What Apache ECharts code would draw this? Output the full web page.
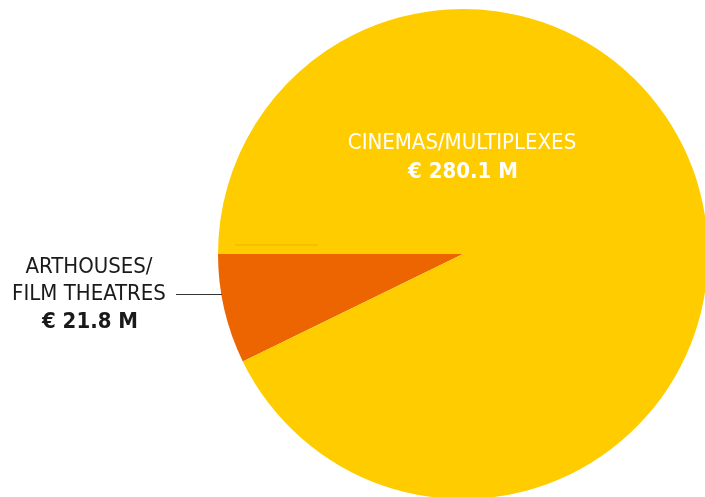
<!DOCTYPE html>
<html><head><meta charset="utf-8">
<script src="https://cdn.jsdelivr.net/npm/echarts@6/dist/echarts.min.js"></script>
<style>html,body{margin:0;padding:0;background:#fff}#c{width:705px;height:497px}</style>
</head><body><div id="c"></div>
<script>
var categories = ["ARTHOUSES/\nFILM THEATRES", "CINEMAS/MULTIPLEXES"];
var values = [21.8, 280.1];
var valueLabels = ["€ 21.8 M", "€ 280.1 M"];
var colors = ["#EC6500", "#FFCC00"];
var FONT = "'Liberation Sans Narrow','DejaVu Sans Condensed','Roboto',sans-serif";

var chart = echarts.init(document.getElementById('c'), null, {renderer: 'canvas'});
chart.setOption({
  animation: false,
  series: [{
    type: 'pie',
    center: [463, 254],
    radius: [0, 245],
    startAngle: 180,
    clockwise: false,
    silent: true,
    label: {show: false},
    labelLine: {show: false},
    itemStyle: {borderWidth: 0},
    data: categories.map(function (c, i) {
      return {name: c, value: values[i], itemStyle: {color: colors[i]}};
    })
  }],
  graphic: {
    elements: [
      {type: 'line', z: 100, shape: {x1: 235, y1: 245, x2: 318, y2: 245}, style: {stroke: '#F8BE00', lineWidth: 2}, silent: true},
      {type: 'line', z: 100, shape: {x1: 176, y1: 294.5, x2: 222, y2: 294.5}, style: {stroke: '#333', lineWidth: 1}, silent: true},
      {type: 'text', z: 100, x: 89, y: 281, style: {text: categories[0], fill: '#1a1a1a', font: '22px ' + FONT, align: 'center', verticalAlign: 'middle', lineHeight: 27}},
      {type: 'text', z: 100, x: 90, y: 322, style: {text: valueLabels[0], fill: '#1a1a1a', font: 'bold 22px ' + FONT, align: 'center', verticalAlign: 'middle'}},
      {type: 'text', z: 100, x: 462, y: 143, style: {text: categories[1], fill: '#fff', font: '22px ' + FONT, align: 'center', verticalAlign: 'middle'}},
      {type: 'text', z: 100, x: 463, y: 172, style: {text: valueLabels[1], fill: '#fff', font: 'bold 22px ' + FONT, align: 'center', verticalAlign: 'middle'}}
    ]
  }
});
</script></body></html>
